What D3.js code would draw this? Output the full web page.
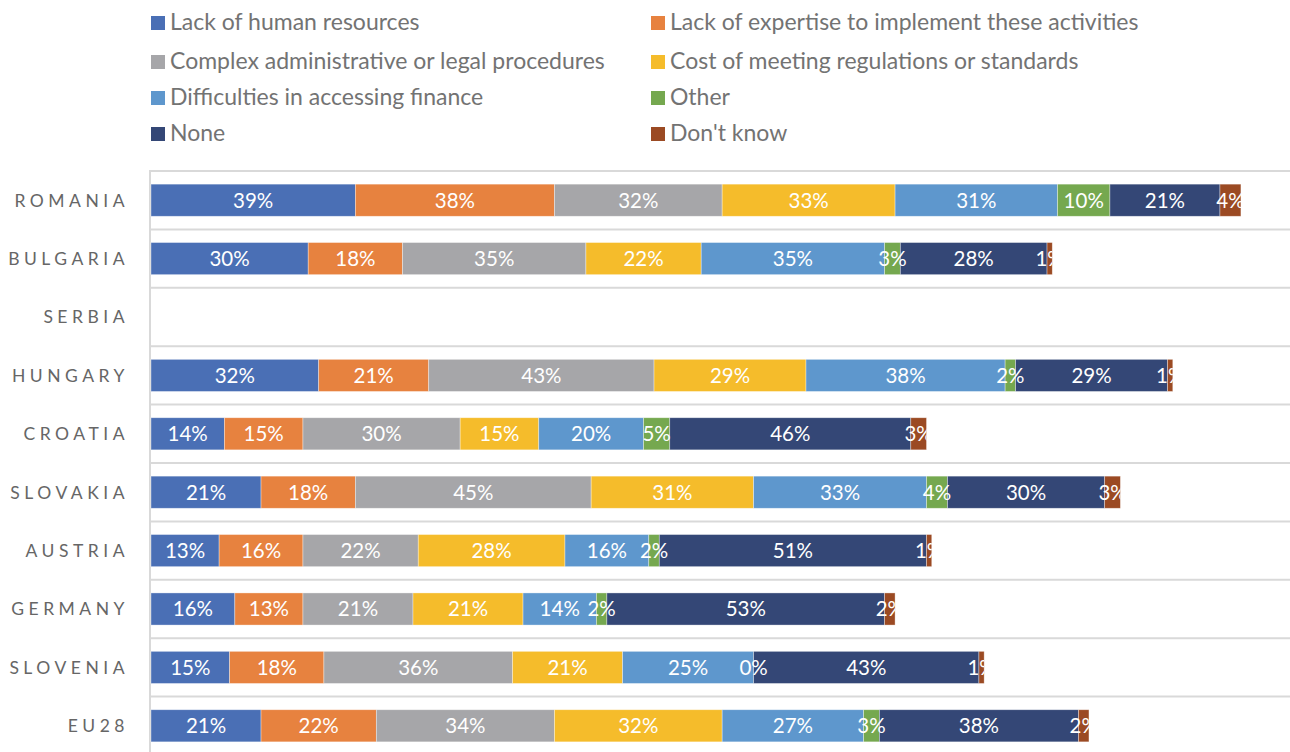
<!DOCTYPE html>
<html>
<head>
<meta charset="utf-8">
<script src="https://cdn.jsdelivr.net/npm/d3@7"></script>
<style>
  body { margin: 0; background: #fff; }
  text { font-family: Lato, "Open Sans", sans-serif; }
</style>
</head>
<body>
<div id="chart"></div>
<script>
// chart data
var countries = ["ROMANIA", "BULGARIA", "SERBIA", "HUNGARY", "CROATIA", "SLOVAKIA", "AUSTRIA", "GERMANY", "SLOVENIA", "EU28"];
var seriesNames = ["Lack of human resources", "Lack of expertise to implement these activities",
  "Complex administrative or legal procedures", "Cost of meeting regulations or standards",
  "Difficulties in accessing finance", "Other", "None", "Don't know"];
var colors = ["#4a6fb5", "#e7823f", "#a6a6a9", "#f5bc2b", "#5e97cd", "#75a84f", "#344776", "#9b4a23"];

// one array per series, in country order (Serbia has no data)
var humanRes   = [39, 30, null, 32, 14, 21, 13, 16, 15, 21];
var expertise  = [38, 18, null, 21, 15, 18, 16, 13, 18, 22];
var complexAdm = [32, 35, null, 43, 30, 45, 22, 21, 36, 34];
var costRegs   = [33, 22, null, 29, 15, 31, 28, 21, 21, 32];
var finance    = [31, 35, null, 38, 20, 33, 16, 14, 25, 27];
var other      = [10, 3, null, 2, 5, 4, 2, 2, 0, 3];
var none       = [21, 28, null, 29, 46, 30, 51, 53, 43, 38];
var dontKnow   = [4, 1, null, 1, 3, 3, 1, 2, 1, 2];

var seriesValues = [humanRes, expertise, complexAdm, costRegs, finance, other, none, dontKnow];

var WD = 1290, HT = 752;
var margin = { left: 151, top: 171 };

var svg = d3.select("#chart").append("svg")
  .attr("width", WD)
  .attr("height", HT);

// scales
var x = d3.scaleLinear().domain([0, 220]).range([margin.left, margin.left + 220 * 5.24]);
var y = d3.scaleBand().domain(countries).range([margin.top, 755])
  .paddingInner(0.45).paddingOuter(0.225);
var step = y.step();

// gridlines between categories
var gridY = d3.range(countries.length + 1).map(function(i) { return margin.top + i * step; });
svg.append("g").selectAll("line")
  .data(gridY)
  .enter().append("line")
    .attr("x1", margin.left - 1).attr("x2", WD)
    .attr("y1", function(d) { return d; }).attr("y2", function(d) { return d; })
    .attr("stroke", "#d9d9d9").attr("stroke-width", 2);

svg.append("line")
  .attr("x1", margin.left - 1).attr("x2", margin.left - 1)
  .attr("y1", margin.top - 1).attr("y2", HT)
  .attr("stroke", "#d9d9d9").attr("stroke-width", 2);

// category labels (letter-spaced)
var spacing = 4.5;
svg.append("g").selectAll("text")
  .data(countries)
  .enter().append("text")
    .attr("x", 129)
    .attr("y", function(d) { return y(d) + y.bandwidth() / 2; })
    .attr("dy", "0.36em")
    .attr("text-anchor", "end")
    .attr("fill", "#666666")
    .style("font-size", "17.5px")
    .style("letter-spacing", spacing + "px")
    .text(function(d) { return d; });

// build stacked segments per country
var rows = countries.map(function(c, ci) {
  var x0 = 0;
  var segs = [];
  seriesValues.forEach(function(vals, si) {
    var v = vals[ci];
    if (v == null) return;
    segs.push({ country: c, series: si, value: v, start: x0, end: x0 + v });
    x0 += v;
  });
  return { country: c, index: ci, total: x0, segs: segs };
});

var defs = svg.append("defs");
defs.selectAll("clipPath")
  .data(rows)
  .enter().append("clipPath")
    .attr("id", function(d) { return "clip" + d.index; })
  .append("rect")
    .attr("x", x(0))
    .attr("y", function(d) { return y(d.country) - 5; })
    .attr("width", function(d) { return x(d.total) - x(0); })
    .attr("height", y.bandwidth() + 10);

var rowG = svg.append("g").selectAll("g")
  .data(rows)
  .enter().append("g");

rowG.selectAll("rect")
  .data(function(d) { return d.segs; })
  .enter().append("rect")
    .attr("x", function(d) { return x(d.start); })
    .attr("y", function(d) { return y(d.country); })
    .attr("width", function(d) { return x(d.end) - x(d.start); })
    .attr("height", y.bandwidth())
    .attr("fill", function(d) { return colors[d.series]; })
    .attr("stroke", "#ffffff")
    .attr("stroke-opacity", 0.5)
    .attr("stroke-width", 0.7);

// data labels, clipped to the end of each bar
rowG.append("g")
    .attr("clip-path", function(d) { return "url(#clip" + d.index + ")"; })
  .selectAll("text")
  .data(function(d) { return d.segs; })
  .enter().append("text")
    .attr("x", function(d) { return (x(d.start) + x(d.end)) / 2; })
    .attr("y", function(d) { return y(d.country) + y.bandwidth() / 2; })
    .attr("dy", "0.36em")
    .attr("text-anchor", "middle")
    .attr("fill", "#ffffff")
    .style("font-size", "20.5px")
    .text(function(d) { return d.value + "%"; });

// legend, two columns
var legendCols = [151, 651];
var legendRows = [22, 61, 97, 133];
var legend = svg.append("g").selectAll("g")
  .data(seriesNames)
  .enter().append("g")
    .attr("transform", function(d, i) {
      return "translate(" + legendCols[i % 2] + "," + legendRows[Math.floor(i / 2)] + ")";
    });

legend.append("rect")
  .attr("x", 0).attr("y", -6)
  .attr("width", 14).attr("height", 14)
  .attr("fill", function(d, i) { return colors[i]; });

legend.append("text")
  .attr("x", 19)
  .attr("dy", "0.36em")
  .attr("fill", "#737373")
  .style("font-size", "23px")
  .text(function(d) { return d; });
</script>
</body>
</html>
